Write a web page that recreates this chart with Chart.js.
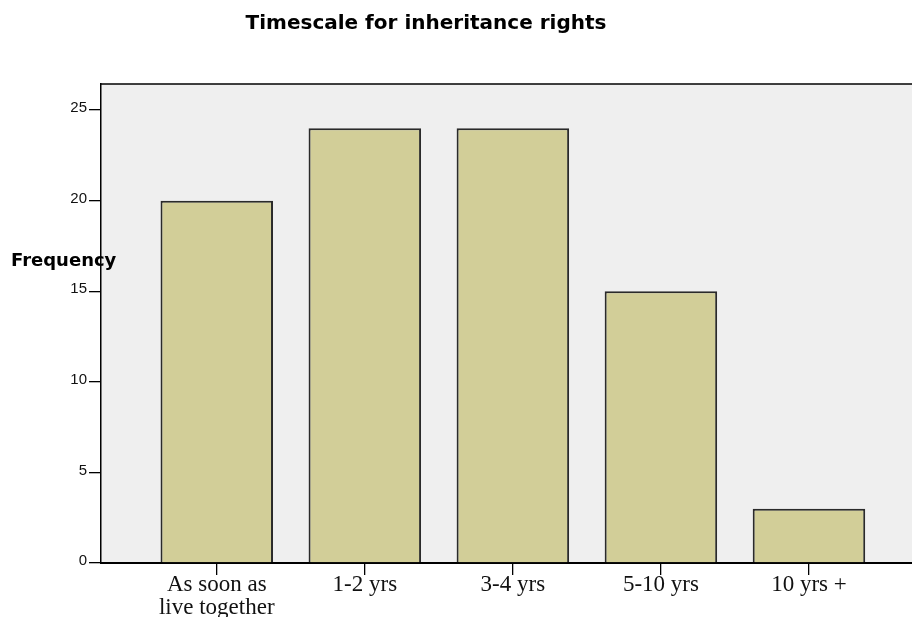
<!DOCTYPE html>
<html>
<head>
<meta charset="utf-8">
<title>Timescale for inheritance rights</title>
<script src="https://cdn.jsdelivr.net/npm/chart.js@4/dist/chart.umd.min.js"></script>
<style>
    html, body { margin: 0; padding: 0; background: #fff; }
    #wrap { width: 912px; height: 617px; }
</style>
</head>
<body>
<div id="wrap"><canvas id="freqChart"></canvas></div>
<script>
// Answers to "timescale for inheritance rights"
const categories = [['As soon as', 'live together'], '1-2 yrs', '3-4 yrs', '5-10 yrs', '10 yrs +'];
const frequencies = [20, 24, 24, 15, 3];
const yTicks = [0, 5, 10, 15, 20, 25];

// Gray plot background, top frame line and the two free texts
const framePlugin = {
    id: 'frame',
    beforeDraw(chart) {
        const { ctx, chartArea } = chart;
        ctx.save();
        ctx.fillStyle = '#efefef';
        ctx.fillRect(chartArea.left, chartArea.top, chartArea.right - chartArea.left, chartArea.bottom - chartArea.top);
        ctx.restore();
    },
    afterDraw(chart) {
        const { ctx, chartArea } = chart;
        ctx.save();
        ctx.strokeStyle = '#000';
        ctx.lineWidth = 1.5;
        ctx.beginPath();
        ctx.moveTo(chartArea.left - 1, chartArea.top);
        ctx.lineTo(chartArea.right, chartArea.top);
        ctx.stroke();

        ctx.fillStyle = '#000';
        ctx.font = 'bold 20px "DejaVu Sans"';
        ctx.textAlign = 'center';
        ctx.textBaseline = 'middle';
        ctx.fillText('Timescale for inheritance rights', 426, 24);

        ctx.font = 'bold 18px "DejaVu Sans"';
        ctx.textAlign = 'left';
        ctx.fillText('Frequency', 11, 261);
        ctx.restore();
    }
};

function createChart() {
    const ctx = document.getElementById('freqChart').getContext('2d');
    return new Chart(ctx, {
        type: 'bar',
        data: {
            datasets: [{
                label: 'Frequency',
                data: frequencies.map((f, i) => ({ x: i, y: f })),
                backgroundColor: '#d2ce98',
                borderColor: '#2a2a2a',
                borderWidth: 2,
                categoryPercentage: 1,
                barPercentage: 0.76
            }]
        },
        options: {
            responsive: true,
            maintainAspectRatio: false,
            animation: false,
            layout: { padding: { top: 84, left: 0, right: 0, bottom: 0 } },
            plugins: {
                legend: { display: false },
                tooltip: { enabled: false }
            },
            scales: {
                x: {
                    type: 'linear',
                    offset: false,
                    min: -0.782,
                    max: 4.696,
                    afterBuildTicks: s => { s.ticks = categories.map((c, i) => ({ value: i })); },
                    afterFit: s => { s.height = 54; },
                    grid: { offset: false, drawOnChartArea: false, tickLength: 12, color: '#000', lineWidth: 1.3 },
                    border: { color: '#000', width: 2 },
                    ticks: {
                        callback: v => categories[v],
                        color: '#111',
                        padding: -2,
                        maxRotation: 0,
                        autoSkip: false,
                        font: { family: '"Liberation Serif"', size: 23, lineHeight: 1.0 }
                    }
                },
                y: {
                    min: 0,
                    max: 26.44,
                    afterBuildTicks: s => { s.ticks = yTicks.map(v => ({ value: v })); },
                    afterFit: s => { s.width = 101; },
                    grid: { drawOnChartArea: false, tickLength: 12, color: '#000', lineWidth: 1.3 },
                    border: { color: '#000', width: 1.5 },
                    ticks: {
                        color: '#111',
                        padding: 2,
                        labelOffset: -2,
                        font: { family: '"Liberation Sans"', size: 15 }
                    }
                }
            }
        },
        plugins: [framePlugin]
    });
}

createChart();
</script>
</body>
</html>
